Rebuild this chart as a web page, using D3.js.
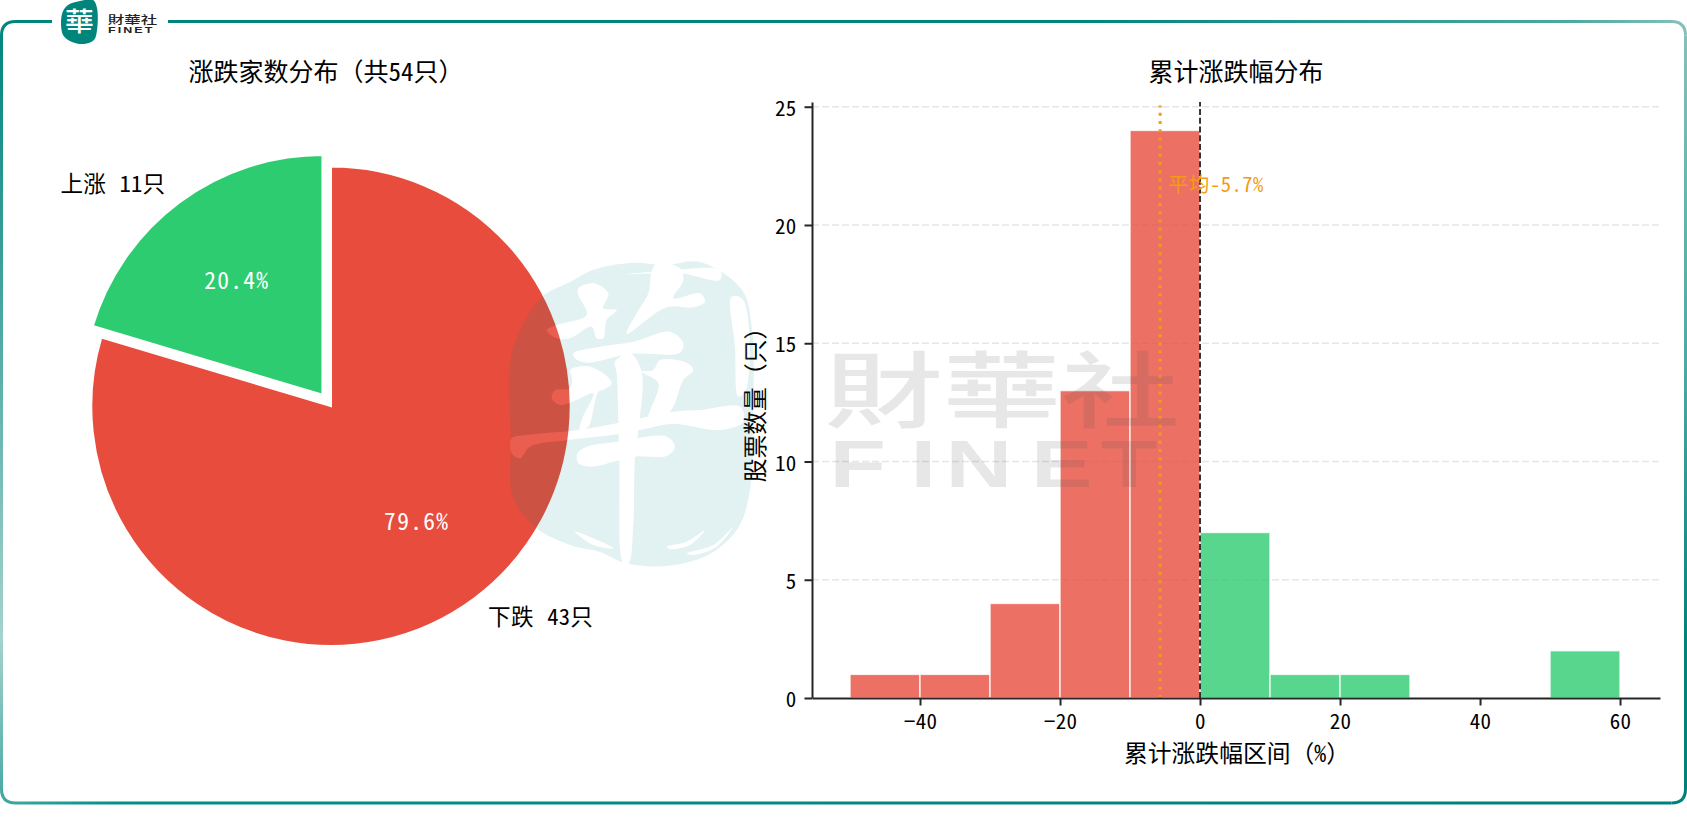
<!DOCTYPE html>
<html><head><meta charset="utf-8">
<script src="https://d3js.org/d3.v7.min.js"></script>
<style>
html,body{margin:0;padding:0;background:#fff}
svg{display:block}
text{font-family:"Noto Sans Mono CJK SC","Noto Sans CJK SC",sans-serif}
</style></head><body>
<svg id="c" width="1687" height="825"></svg>
<script>
const pieLabels=["下跌 43只","上涨 11只"];
const pieValues=[43,11];
const pieColors=["#e74c3c","#2ecc71"];
const binEdges=[-50,-40,-30,-20,-10,0,10,20,30,40,50,60];
const binCounts=[1,1,4,13,24,7,1,1,0,0,2];
const xTicks=[-40,-20,0,20,40,60];
const yTicks=[0,5,10,15,20,25];
const meanValue=-5.7;
const total=d3.sum(pieValues);

const svg=d3.select("#c");
const defs=svg.append("defs");
const TEAL="#00857c";
svg.append("rect").attr("width",1687).attr("height",825).attr("fill","#fff");

/* ---------- frame ---------- */
function grad(id,x1,y1,x2,y2,stops){
  const g=defs.append("linearGradient").attr("id",id).attr("gradientUnits","userSpaceOnUse")
    .attr("x1",x1).attr("y1",y1).attr("x2",x2).attr("y2",y2);
  stops.forEach(s=>g.append("stop").attr("offset",s[0]).attr("stop-color",s[1]));
}
const L=1.5,R=1685.5,T=21.5,B=803,r=14;
grad("gTop",168,0,1687,0,[[0,TEAL],[.6,TEAL],[.92,"#4aa8a2"],[1,"#85c1bc"]]);
grad("gRight",0,T,0,B,[[0,"#85c1bc"],[.45,"#4aa8a2"],[.8,"#00807a"],[1,"#00807a"]]);
grad("gBottom",0,0,1687,0,[[0,"#45a8a2"],[.07,"#009088"],[1,"#00807a"]]);
grad("gLeft",0,T,0,B,[[0,TEAL],[.3,"#3a9f98"],[.79,"#a5d2ce"],[1,"#45a8a2"]]);
const frame=svg.append("g").attr("fill","none").attr("stroke-width",3);
frame.append("path").attr("d",`M52 ${T}H${L+r}Q${L} ${T} ${L} ${T+r}V${B-r}`).attr("stroke","url(#gLeft)");
frame.append("path").attr("d",`M${L} ${B-r}Q${L} ${B} ${L+r} ${B}H${R-r}`).attr("stroke","url(#gBottom)");
frame.append("path").attr("d",`M${R-r} ${B}Q${R} ${B} ${R} ${B-r}V${T+r}`).attr("stroke","url(#gRight)");
frame.append("path").attr("d",`M${R} ${T+r}Q${R} ${T} ${R-r} ${T}H168`).attr("stroke","url(#gTop)");

/* ---------- pie ---------- */
const pcx=331,pcy=406.2,pr=239.2,explode=14.3;
const pieG=svg.append("g");
const arcs=d3.pie().sort(null)(pieValues);
const arc=d3.arc().innerRadius(0).outerRadius(pr+.5);
const lblArc=d3.arc().innerRadius(pr*1.1).outerRadius(pr*1.1);
const pctArc=d3.arc().innerRadius(pr*.6).outerRadius(pr*.6);
arcs.forEach((a,i)=>{
  const mid=(a.startAngle+a.endAngle)/2;
  const off=i===1?explode:0;
  const ox=pcx+Math.sin(mid)*off, oy=pcy-Math.cos(mid)*off;
  const g=pieG.append("g").attr("transform",`translate(${ox},${oy})`);
  g.append("path").attr("d",arc(a)).attr("fill",pieColors[i]).attr("stroke","#fff").attr("stroke-width",2);
  const lp=lblArc.centroid(a), pp=pctArc.centroid(a);
  g.append("text").attr("x",lp[0]).attr("y",lp[1]).attr("dy","0.36em")
    .attr("text-anchor",Math.sin(mid)>0?"start":"end")
    .attr("font-size",22.6).attr("word-spacing",2).attr("letter-spacing",.2).attr("fill","#000").text(pieLabels[i]);
  g.append("text").attr("x",pp[0]).attr("y",pp[1]).attr("dy","0.38em").attr("text-anchor","middle")
    .attr("font-size",23.5).attr("letter-spacing",1.3).attr("fill","#fff")
    .text((pieValues[i]/total*100).toFixed(1)+"%");
});
svg.append("text").attr("x",326).attr("y",72).attr("dy","0.36em").attr("text-anchor","middle")
  .attr("font-size",25).attr("fill","#000").text("涨跌家数分布（共54只）");

/* ---------- histogram ---------- */
const x=d3.scaleLinear().domain([-55.43,65.71]).range([812,1660]);
const y=d3.scaleLinear().domain([0,25.2]).range([698,102]);
const h=svg.append("g");
h.append("g").selectAll("line").data(yTicks.filter(d=>d>0)).join("line")
  .attr("x1",x.range()[0]).attr("x2",x.range()[1]).attr("y1",d=>y(d)).attr("y2",d=>y(d))
  .attr("stroke","#e6e6e6").attr("stroke-width",1.5).attr("stroke-dasharray","7,3");
h.append("g").selectAll("rect").data(binCounts.map((c,i)=>({c,a:binEdges[i],b:binEdges[i+1]})).filter(d=>d.c>0)).join("rect")
  .attr("x",d=>x(d.a)).attr("width",d=>x(d.b)-x(d.a))
  .attr("y",d=>y(d.c)).attr("height",d=>y(0)-y(d.c))
  .attr("fill",d=>d.a<0?pieColors[0]:pieColors[1]).attr("fill-opacity",.8)
  .attr("stroke","#fff").attr("stroke-opacity",.8).attr("stroke-width",1.5);
h.append("line").attr("x1",x(0)).attr("x2",x(0)).attr("y1",y(0)).attr("y2",y(25.2))
  .attr("stroke","#222").attr("stroke-width",1.8).attr("stroke-dasharray","6,2.7");
h.append("line").attr("x1",x(meanValue)).attr("x2",x(meanValue)).attr("y1",y(0)).attr("y2",y(25.05))
  .attr("stroke","#f39c12").attr("stroke-width",3).attr("stroke-dasharray","3,5.2");
h.append("text").attr("x",x(meanValue)+8).attr("y",185).attr("dy","0.36em")
  .attr("font-size",20.5).attr("letter-spacing",.5).attr("fill","#f39c12").text("平均"+String(meanValue)+"%");

const fmt=d=>String(d).replace("-","−");
const ax=h.append("g").attr("transform",`translate(0,${y(0)})`)
  .call(d3.axisBottom(x).tickValues(xTicks).tickFormat(fmt).tickSize(7.5).tickPadding(9).tickSizeOuter(0));
const ay=h.append("g").attr("transform",`translate(${x.range()[0]},0)`)
  .call(d3.axisLeft(y).tickValues(yTicks).tickFormat(fmt).tickSize(7.5).tickPadding(8).tickSizeOuter(0));
[ax,ay].forEach(a=>{
  a.selectAll(".domain,.tick line").attr("stroke","#262626").attr("stroke-width",2);
  a.selectAll("text").attr("font-size",21).attr("letter-spacing",.3).attr("fill","#000")
   .style("font-family",'"Noto Sans Mono CJK SC","Noto Sans CJK SC",sans-serif');
});
ay.selectAll("text").attr("transform","translate(0,2)");
h.append("text").attr("x",1236).attr("y",72).attr("dy","0.36em").attr("text-anchor","middle")
  .attr("font-size",25).attr("fill","#000").text("累计涨跌幅分布");
h.append("text").attr("x",1237).attr("y",753.5).attr("dy","0.36em").attr("text-anchor","middle")
  .attr("font-size",23.8).attr("fill","#000").text("累计涨跌幅区间（%）");
h.append("text").attr("transform","translate(755,399) rotate(-90)").attr("dy","0.36em").attr("text-anchor","middle")
  .attr("font-size",23.8).attr("fill","#000").text("股票数量（只）");

/* ---------- watermark emblem (brush artwork) ---------- */
const blobPts=[[510,365],[518,335],[542,297],[570,282],[593,270],[630,263],[665,265],[700,262],[742,290],[752,330],[753,420],[750,490],[738,528],[708,555],[665,566],[625,563],[600,552],[570,545],[535,527],[513,497],[511,440]];
const brushZoom=[
 [[355,175],[400,160],[445,190],[430,235],[470,240],[440,270],[430,325],[410,325],[395,290],[330,325],[290,325],[260,300],[290,285],[380,255],[355,195]],
 [[590,100],[660,115],[670,150],[640,205],[720,190],[735,215],[700,232],[620,232],[500,312],[530,250],[565,190],[575,125]],
 [[340,370],[420,350],[520,335],[630,305],[670,340],[660,368],[510,372],[380,398],[345,385]],
 [[465,395],[510,370],[545,425],[535,600],[525,680],[520,880],[506,1000],[490,1000],[478,690],[470,430]],
 [[330,420],[380,408],[430,430],[455,460],[430,480],[415,485],[385,590],[360,600],[365,570],[400,490],[350,510],[300,525],[275,505],[285,480],[330,475],[335,440]],
 [[580,420],[600,390],[680,398],[700,420],[670,450],[630,545],[565,570],[595,460],[545,425]],
 [[155,625],[200,615],[355,600],[478,578],[640,545],[720,540],[840,530],[850,575],[780,600],[640,582],[540,600],[478,612],[325,630],[210,650],[180,685],[155,670]],
 [[352,670],[380,650],[475,635],[620,620],[645,650],[620,678],[525,680],[390,710],[355,700]],
 [[495,133],[620,122],[780,120],[780,150],[660,130]],
 [[815,200],[850,210],[858,480],[835,500],[825,350]],
 [[345,905],[400,925],[460,955],[400,945]],
 [[620,950],[680,935],[735,900],[690,945],[630,957]],
 [[680,970],[760,945],[820,890],[770,950],[700,975]]
];
const toReal=p=>[460+p[0]/3,230+p[1]/3];
const closed=d3.line().curve(d3.curveCatmullRomClosed.alpha(.5));
const brushPath=brushZoom.map(s=>closed(s.map(toReal))).join("");
const mask=defs.append("mask").attr("id","wm").attr("maskUnits","userSpaceOnUse")
  .attr("x",0).attr("y",0).attr("width",1687).attr("height",825);
mask.append("rect").attr("width",1687).attr("height",825).attr("fill","#000");
mask.append("path").attr("d",closed(blobPts)).attr("fill","#fff");
mask.append("path").attr("d",brushPath).attr("fill","#000");
const w=svg.append("g");
w.append("rect").attr("width",1687).attr("height",825).attr("fill","#008080").attr("fill-opacity",.115).attr("mask","url(#wm)");
w.append("path").attr("d",brushPath).attr("fill","#fff").attr("fill-opacity",.1);
w.append("text").attr("transform","translate(1002,421) scale(1.02,.72)").attr("text-anchor","middle").attr("font-size",116)
  .attr("font-weight",500).style("font-family",'"Noto Sans CJK TC"').attr("fill","#555").attr("fill-opacity",.14).text("財華社");
w.append("text").attr("transform","translate(835,487) scale(1.4,1)").attr("x","-4 54 79 140 190").attr("font-size",66)
  .attr("font-weight",700).style("font-family",'"Liberation Sans"')
  .attr("fill","#555").attr("fill-opacity",.14).text("FINET");

/* ---------- logo ---------- */
const logo=svg.append("g");
const logoPts=[[62,14],[68,5],[80,1],[93,0],[97,8],[97,30],[94,40],[84,44],[72,42],[63,35]];
logo.append("path").attr("d",d3.line().curve(d3.curveCatmullRomClosed)(logoPts)).attr("fill",TEAL);
logo.append("text").attr("transform","translate(79.5,31) scale(1.2,1.1)").attr("text-anchor","middle").attr("font-size",24)
  .attr("font-weight",500).style("font-family",'"Noto Sans CJK TC"').attr("fill","#fff").text("華");
logo.append("text").attr("transform","translate(132.5,23.5) scale(1,.7)").attr("text-anchor","middle").attr("font-size",16.5)
  .attr("font-weight",500).style("font-family",'"Noto Sans CJK TC"').attr("fill","#222").text("財華社");
logo.append("text").attr("transform","translate(108,33) scale(1.3,1)").attr("font-size",9.6)
  .attr("font-weight",700).attr("letter-spacing",1.6).style("font-family",'"Liberation Sans"').attr("fill","#222").text("FINET");
</script>
</body></html>
